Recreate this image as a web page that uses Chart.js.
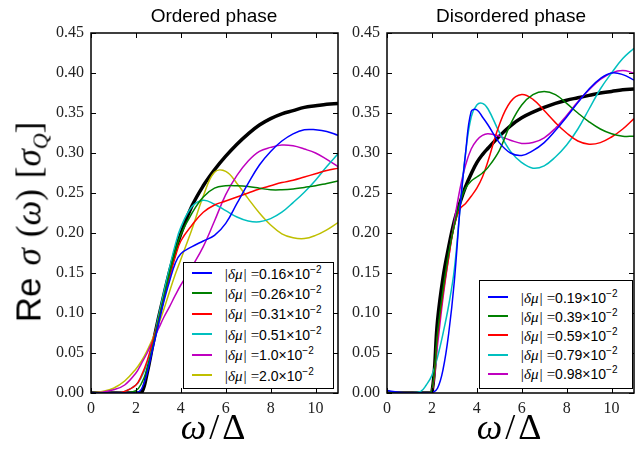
<!DOCTYPE html>
<html>
<head>
<meta charset="utf-8">
<script src="https://cdn.jsdelivr.net/npm/chart.js@4.4.1/dist/chart.umd.min.js"></script>
<style>
  body { margin: 0; background: #fff; }
  #wrap { position: relative; width: 641px; height: 452px; overflow: hidden; }
  canvas { position: absolute; top: 0; }
  .title { position: absolute; top: 5px; font-family: "Liberation Sans", Arial, sans-serif; font-size: 19px; color: #000; transform: translateX(-50%); white-space: nowrap; }
  .xlabel { position: absolute; top: 406px; font-family: "Liberation Serif", serif; font-size: 36px; color: #000; transform: translateX(-50%); white-space: nowrap; }
  .xlabel .sl { margin: 0 3px; }
  .xlabel i, .ylabel i { font-style: italic; }
  .ylabel { position: absolute; left: 31px; top: 222px; transform: translate(-50%, -50%) rotate(-90deg); font-family: "Liberation Serif", serif; font-size: 35px; white-space: nowrap; color: #000; }
  .ylabel .re { font-family: "Liberation Sans", Arial, sans-serif; margin-right: 12px; }
  .ylabel .gap { margin-right: 11px; }
  .ylabel sub { font-size: 22px; vertical-align: -7px; }
  .legend { position: absolute; background: #fff; border: 1.5px solid #000; box-sizing: border-box; }
  .legend .row { position: absolute; left: 0; height: 20px; display: flex; align-items: center; white-space: nowrap; }
  .legend .swatch { display: inline-block; width: 20px; height: 2px; margin-left: 8px; margin-right: 12px; }
  .legend .lbl { font-family: "Liberation Sans", Arial, sans-serif; font-size: 14px; color: #000; }
  .legend .m { font-family: "Liberation Serif", serif; font-style: italic; font-size: 15px; }
  .legend .eq { font-family: "Liberation Serif", serif; font-size: 15px; }
  .legend sup { font-size: 10px; vertical-align: 6px; }
</style>
</head>
<body>
<div id="wrap">
  <canvas id="left" width="341" height="452" style="left:0"></canvas>
  <canvas id="right" width="300" height="452" style="left:341px"></canvas>
  <div class="title" style="left:214px">Ordered phase</div>
  <div class="title" style="left:511px">Disordered phase</div>
  <div class="xlabel" style="left:213px"><i>ω</i><span class="sl">/</span>Δ</div>
  <div class="xlabel" style="left:509px"><i>ω</i><span class="sl">/</span>Δ</div>
  <div class="ylabel"><span class="re">Re</span><i class="gap">σ</i><span class="gap">(<i>ω</i>)</span>[<i>σ</i><sub><i>Q</i></sub>]</div>
  <div class="legend" id="legLeft" style="left:183px; top:262px; width:151px; height:127px"></div>
  <div class="legend" id="legRight" style="left:479px; top:280px; width:154px; height:109px"></div>
</div>
<script>
// shared axis setup
const xTicks = [0, 2, 4, 6, 8, 10];
const yTicks = [0, 0.05, 0.10, 0.15, 0.20, 0.25, 0.30, 0.35, 0.40, 0.45];
const colors = ["#0000ff", "#008000", "#ff0000", "#00bfbf", "#bf00bf", "#bfbf00"];

// Ordered phase
const omegaOrdered = [0, 0.5, 1, 1.5, 2, 2.25, 2.5, 2.75, 3, 3.25, 3.5, 3.75, 4, 4.5, 5, 5.5, 6, 6.5, 7, 7.5, 8, 8.5, 9, 9.5, 10, 10.5, 11];
const orderedLabels = ["0.16", "0.26", "0.31", "0.51", "1.0", "2.0"];
const ordered016 = [0, 0, 0, 0, 0, 0.005, 0.025, 0.055, 0.085, 0.115, 0.14, 0.162, 0.174, 0.183, 0.19, 0.197, 0.212, 0.237, 0.262, 0.285, 0.302, 0.315, 0.324, 0.329, 0.329, 0.327, 0.322];
const ordered026 = [0, 0, 0, 0, 0.003, 0.012, 0.03, 0.058, 0.09, 0.12, 0.15, 0.177, 0.198, 0.225, 0.245, 0.256, 0.259, 0.259, 0.258, 0.256, 0.254, 0.254, 0.255, 0.257, 0.259, 0.262, 0.265];
const ordered031 = [0, 0, 0, 0.002, 0.01, 0.022, 0.04, 0.065, 0.09, 0.12, 0.145, 0.17, 0.19, 0.21, 0.226, 0.235, 0.24, 0.245, 0.25, 0.255, 0.259, 0.263, 0.266, 0.27, 0.274, 0.278, 0.281];
const ordered051 = [0, 0, 0, 0.002, 0.01, 0.02, 0.037, 0.063, 0.095, 0.127, 0.157, 0.185, 0.207, 0.233, 0.241, 0.236, 0.228, 0.22, 0.215, 0.214, 0.218, 0.226, 0.238, 0.251, 0.266, 0.283, 0.299];
const ordered10 = [0, 0.001, 0.004, 0.01, 0.025, 0.037, 0.05, 0.065, 0.08, 0.095, 0.108, 0.122, 0.135, 0.158, 0.183, 0.215, 0.248, 0.272, 0.29, 0.302, 0.307, 0.31, 0.309, 0.305, 0.3, 0.292, 0.283];
const ordered20 = [0, 0.002, 0.006, 0.015, 0.03, 0.04, 0.053, 0.068, 0.085, 0.105, 0.127, 0.148, 0.167, 0.205, 0.246, 0.276, 0.277, 0.262, 0.243, 0.225, 0.21, 0.199, 0.194, 0.193, 0.197, 0.204, 0.213];
const orderedClean = [0, 0, 0, 0, 0, 0, 0.025, 0.06, 0.093, 0.123, 0.152, 0.177, 0.199, 0.234, 0.259, 0.279, 0.296, 0.311, 0.324, 0.335, 0.343, 0.349, 0.353, 0.357, 0.359, 0.361, 0.362];

// Disordered phase
const omegaDisordered = [0, 0.5, 1, 1.5, 1.75, 2, 2.25, 2.5, 2.75, 3, 3.25, 3.5, 3.75, 4, 4.25, 4.5, 5, 5.5, 6, 6.5, 7, 7.5, 8, 8.5, 9, 9.5, 10, 10.5, 11];
const disorderedLabels = ["0.19", "0.39", "0.59", "0.79", "0.98"];
const disordered019 = [0.003, 0.001, 0, 0, 0, 0, 0.006, 0.03, 0.075, 0.14, 0.23, 0.3, 0.352, 0.354, 0.345, 0.335, 0.313, 0.3, 0.297, 0.303, 0.313, 0.328, 0.345, 0.363, 0.38, 0.393, 0.4, 0.398, 0.391];
const disordered039 = [0, 0, 0, 0, 0, 0.003, 0.075, 0.13, 0.175, 0.21, 0.238, 0.256, 0.265, 0.27, 0.275, 0.282, 0.303, 0.336, 0.36, 0.373, 0.377, 0.373, 0.362, 0.35, 0.339, 0.33, 0.324, 0.321, 0.321];
const disordered059 = [0, 0, 0, 0, 0, 0.002, 0.07, 0.125, 0.17, 0.21, 0.23, 0.237, 0.246, 0.256, 0.27, 0.29, 0.335, 0.364, 0.373, 0.367, 0.353, 0.338, 0.325, 0.315, 0.311, 0.313, 0.32, 0.33, 0.343];
const disordered079 = [0, 0, 0, 0.002, 0.01, 0.022, 0.045, 0.075, 0.11, 0.155, 0.23, 0.3, 0.345, 0.36, 0.362, 0.355, 0.326, 0.302, 0.288, 0.281, 0.284, 0.295, 0.31, 0.33, 0.355, 0.38, 0.4, 0.418, 0.431];
const disordered098 = [0, 0, 0, 0, 0, 0.002, 0.06, 0.12, 0.17, 0.215, 0.255, 0.285, 0.305, 0.316, 0.322, 0.324, 0.321, 0.316, 0.312, 0.313, 0.319, 0.331, 0.347, 0.364, 0.379, 0.392, 0.4, 0.403, 0.4];
const disorderedClean = [0, 0, 0, 0, 0, 0, 0.09, 0.145, 0.183, 0.215, 0.238, 0.258, 0.274, 0.288, 0.298, 0.306, 0.321, 0.334, 0.344, 0.351, 0.357, 0.362, 0.366, 0.369, 0.372, 0.375, 0.377, 0.379, 0.38];

function toPoints(xs, ys) {
    return xs.map((x, i) => ({ x: x, y: ys[i] }));
}

// matplotlib-style frame with inward ticks on all four sides
const frameTicks = {
    id: "frameTicks",
    afterDatasetsDraw(chart) {
        const ctx = chart.ctx;
        const a = chart.chartArea;
        const xs = chart.scales.x, ys = chart.scales.y;
        ctx.save();
        ctx.strokeStyle = "#000";
        ctx.lineWidth = 1;
        ctx.beginPath();
        xTicks.forEach(v => {
            const px = Math.round(xs.getPixelForValue(v)) + 0.5;
            ctx.moveTo(px, a.bottom); ctx.lineTo(px, a.bottom - 5);
            ctx.moveTo(px, a.top); ctx.lineTo(px, a.top + 5);
        });
        yTicks.forEach(v => {
            const py = Math.round(ys.getPixelForValue(v)) + 0.5;
            ctx.moveTo(a.left, py); ctx.lineTo(a.left + 5, py);
            ctx.moveTo(a.right, py); ctx.lineTo(a.right - 5, py);
        });
        ctx.stroke();
        ctx.lineWidth = 1.5;
        ctx.strokeRect(a.left, a.top, a.right - a.left, a.bottom - a.top);
        ctx.restore();
    }
};

const tickFont = { family: "'Liberation Serif', 'Times New Roman', serif", size: 16 };

function makeChart(id, xs, series, clean, axisWidth, padRight) {
    const datasets = series.map((ys, i) => ({
        data: toPoints(xs, ys),
        borderColor: colors[i],
        borderWidth: 1.5,
        pointRadius: 0,
        tension: 0.4,
        fill: false
    }));
    datasets.push({
        data: toPoints(xs, clean),
        borderColor: "#000",
        borderWidth: 3.5,
        pointRadius: 0,
        tension: 0.4,
        fill: false
    });
    return new Chart(document.getElementById(id), {
        type: "line",
        data: { datasets },
        plugins: [frameTicks],
        options: {
            responsive: false,
            animation: false,
            devicePixelRatio: 1,
            layout: { padding: { left: 0, top: 33, right: padRight, bottom: 0 } },
            plugins: { legend: { display: false }, tooltip: { enabled: false } },
            scales: {
                x: {
                    type: "linear",
                    min: 0,
                    max: 11,
                    grid: { display: false, drawTicks: false },
                    border: { display: false },
                    afterBuildTicks: s => { s.ticks = xTicks.map(v => ({ value: v })); },
                    afterFit: s => { s.height = 59; },
                    ticks: {
                        padding: 6,
                        color: "#222",
                        font: tickFont,
                        callback: v => String(v)
                    }
                },
                y: {
                    min: 0,
                    max: 0.45,
                    grid: { display: false, drawTicks: false },
                    border: { display: false },
                    afterBuildTicks: s => { s.ticks = yTicks.map(v => ({ value: v })); },
                    afterFit: s => { s.width = axisWidth; },
                    ticks: {
                        padding: 7,
                        color: "#222",
                        font: tickFont,
                        callback: v => v.toFixed(2)
                    }
                }
            }
        }
    });
}

function buildLegend(elId, labels, firstRow, rowGap) {
    const box = document.getElementById(elId);
    labels.forEach((v, i) => {
        const row = document.createElement("div");
        row.className = "row";
        row.style.top = (firstRow + i * rowGap - 10) + "px";
        row.innerHTML = `<span class="swatch" style="background:${colors[i]}"></span>` +
            `<span class="lbl"><span class="m">|δμ|</span> <span class="eq">=</span>${v}×10<sup>−2</sup></span>`;
        box.appendChild(row);
    });
}

makeChart("left", omegaOrdered,
    [ordered016, ordered026, ordered031, ordered051, ordered10, ordered20], orderedClean, 91, 3);
makeChart("right", omegaDisordered,
    [disordered019, disordered039, disordered059, disordered079, disordered098], disorderedClean, 46, 7);

buildLegend("legLeft", orderedLabels, 10, 20.4);
buildLegend("legRight", disorderedLabels, 16, 19.2);
</script>
</body>
</html>
